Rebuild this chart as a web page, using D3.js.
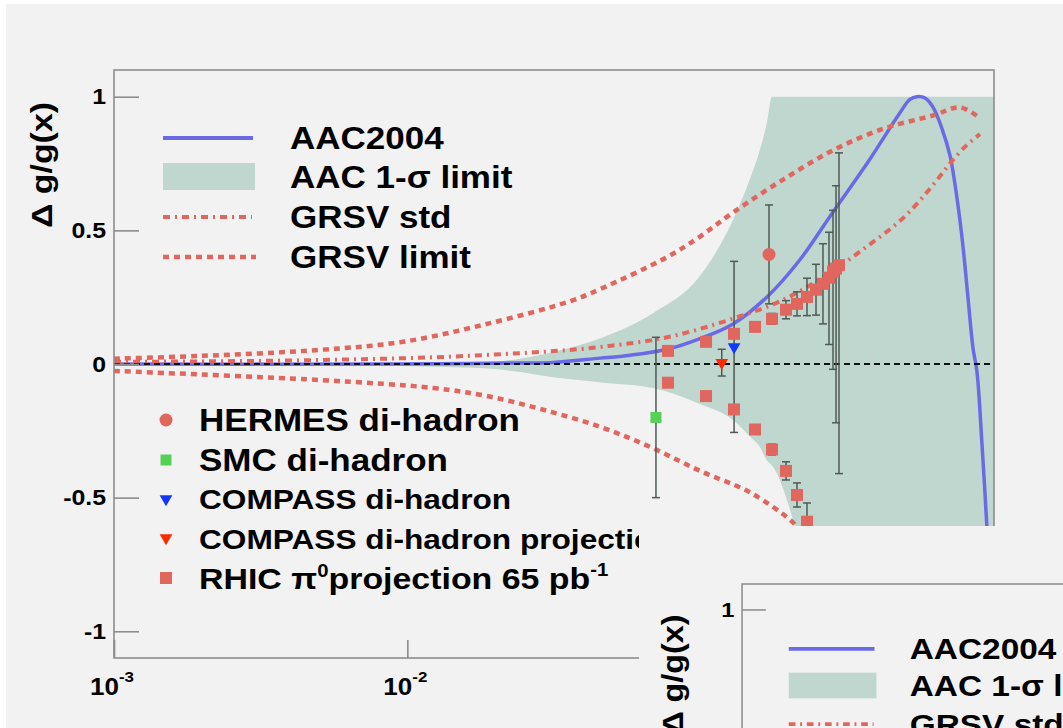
<!DOCTYPE html>
<html>
<head>
<meta charset="utf-8">
<script src="https://cdn.jsdelivr.net/npm/d3@7"></script>
<style>
  body { margin: 0; background: #fff; }
  svg text { font-family: 'Liberation Sans', Arial, Helvetica, sans-serif; font-weight: bold; fill: #000; }
</style>
</head>
<body>
<svg id="canvas" width="1063" height="728"></svg>
<script>
// ---- values ----
var aacX = [0.001, 0.0095, 0.0187, 0.0314, 0.0454, 0.0531, 0.0768, 0.0995, 0.129, 0.168, 0.218, 0.283, 0.369, 0.478, 0.517, 0.546, 0.582, 0.620, 0.665, 0.708, 0.748, 0.784, 0.815, 0.848, 0.875, 0.910, 0.947, 0.969];
var aacY = [0.0, 0.0, 0.003, 0.006, 0.022, 0.028, 0.055, 0.095, 0.15, 0.25, 0.39, 0.57, 0.75, 0.94, 0.99, 1.0, 0.995, 0.96, 0.88, 0.78, 0.62, 0.44, 0.25, 0.06, -0.03, -0.3, -0.62, -0.85];

var bandX  = [0.001, 0.00431, 0.0177, 0.0242, 0.0314, 0.0465, 0.0688, 0.0995, 0.129, 0.147, 0.159, 0.168, 0.175, 0.182, 0.197, 0.210, 0.236, 1.0];
var bandHi = [0.003, 0.004, 0.006, 0.02, 0.045, 0.10, 0.19, 0.33, 0.54, 0.69, 0.80, 0.90, 1.0, 1.0, 1.0, 1.0, 1.0, 1.0];
var bandLo = [-0.003, -0.004, -0.015, -0.03, -0.05, -0.07, -0.09, -0.15, -0.21, -0.27, -0.31, -0.36, -0.38, -0.41, -0.51, -0.61, -0.8, -0.8];

var grsvStdX = [0.001, 0.00504, 0.0187, 0.0465, 0.0768, 0.129, 0.191, 0.283, 0.369, 0.505, 0.620, 0.708, 0.809, 0.896];
var grsvStdY = [0.008, 0.015, 0.034, 0.065, 0.10, 0.17, 0.24, 0.35, 0.44, 0.56, 0.67, 0.75, 0.82, 0.86];

var grsvHiX = [0.001, 0.00195, 0.00504, 0.00966, 0.0187, 0.0359, 0.0454, 0.0768, 0.0995, 0.129, 0.191, 0.283, 0.419, 0.620, 0.766, 0.896];
var grsvHiY = [0.02, 0.03, 0.053, 0.083, 0.15, 0.235, 0.28, 0.40, 0.477, 0.567, 0.69, 0.80, 0.88, 0.93, 0.96, 0.92];
var grsvLoX = [0.001, 0.00504, 0.0123, 0.0187, 0.0288, 0.0454, 0.0672, 0.0995, 0.147, 0.205, 0.22];
var grsvLoY = [-0.026, -0.06, -0.09, -0.12, -0.17, -0.235, -0.31, -0.40, -0.48, -0.59, -0.63];

var hermesX = [0.171], hermesY = [0.41], hermesErr = [0.185];
var smcX = [0.0704], smcY = [-0.20], smcErr = [0.30];
var compassX = [0.130], compassY = [0.064], compassErr = [0.32];
var compassProjX = [0.118], compassProjY = [0.005], compassProjErr = [0.05];

var rhicX     = [0.0774, 0.1043, 0.1299, 0.1532, 0.1751, 0.1954, 0.2130, 0.2304, 0.2473, 0.2612, 0.2738, 0.2826, 0.2894, 0.2962];
var rhicUp    = [0.049, 0.083, 0.113, 0.139, 0.169, 0.203, 0.225, 0.251, 0.278, 0.300, 0.323, 0.345, 0.357, 0.370];
var rhicErrHi = [0.01, 0.01, 0.012, 0.015, 0.02, 0.034, 0.045, 0.07, 0.095, 0.15, 0.17, 0.23, 0.31, 0.42];
var rhicErrLo = [0.01, 0.01, 0.012, 0.015, 0.02, 0.034, 0.045, 0.07, 0.095, 0.15, 0.25, 0.365, 0.577, 0.78];
var rhicDown  = [-0.07, -0.12, -0.17, -0.245, -0.32, -0.40, -0.49, -0.59];

var yMajor = [-1, -0.5, 0, 0.5, 1];
var yLabels = ['-1', '-0.5', '0', '0.5', '1'];
var xMajor = [1e-3, 1e-2, 1e-1, 1];
var xExp = ['-3', '-2', '-1', ''];

var SX = 1.13;   // the fonts in the picture are drawn wider than normal
var blue = '#6a6ae6', red = '#e0665e', green = '#bfd7ce', barCol = '#4f5a54';
var pad2Left = 639, pad2Top = 526;

var svg = d3.select('#canvas');
var defs = svg.append('defs');

function label(g, px, py, parts, size, anchor) {
    var t = g.append('text')
        .attr('transform', 'translate(' + px + ',' + py + ') scale(' + SX + ',1)')
        .attr('text-anchor', anchor || 'start')
        .style('font-size', size + 'px');
    parts.forEach(function(p) {
        if (typeof p === 'string') t.append('tspan').text(p);
        else t.append('tspan').attr('dy', p.dy).style('font-size', p.size + 'px').text(p.t);
    });
    return t;
}

function drawChart(root, tag) {
    var x = d3.scaleLog().domain([1e-3, 1]).range([114, 994]),
        y = d3.scaleLinear().domain([-1.1, 1.1]).range([658, 70]);

    defs.append('clipPath').attr('id', 'frame-' + tag)
        .append('rect').attr('x', 114).attr('y', 70).attr('width', 880).attr('height', 588);

    var plot = root.append('g').attr('clip-path', 'url(#frame-' + tag + ')');

    var area = d3.area().x(function(d) { return x(d[0]); })
        .y0(function(d) { return y(d[2]); }).y1(function(d) { return y(d[1]); })
        .curve(d3.curveMonotoneX);
    plot.append('path').datum(d3.zip(bandX, bandHi, bandLo))
        .attr('d', area).attr('fill', green);

    var line = d3.line().x(function(d) { return x(d[0]); }).y(function(d) { return y(d[1]); })
        .curve(d3.curveCatmullRom);
    var smooth = d3.line().x(function(d) { return x(d[0]); }).y(function(d) { return y(d[1]); })
        .curve(d3.curveMonotoneX);

    plot.append('path').datum(d3.zip(aacX, aacY)).attr('d', line)
        .attr('fill', 'none').attr('stroke', blue).attr('stroke-width', 3.5);
    plot.append('path').datum(d3.zip(grsvStdX, grsvStdY)).attr('d', smooth)
        .attr('fill', 'none').attr('stroke', red).attr('stroke-width', 4).attr('stroke-dasharray', '7,5,2,5');
    plot.append('path').datum(d3.zip(grsvHiX, grsvHiY)).attr('d', line)
        .attr('fill', 'none').attr('stroke', red).attr('stroke-width', 4.5).attr('stroke-dasharray', '6,5');
    plot.append('path').datum(d3.zip(grsvLoX, grsvLoY)).attr('d', line)
        .attr('fill', 'none').attr('stroke', red).attr('stroke-width', 4.5).attr('stroke-dasharray', '6,5');

    plot.append('line').attr('x1', x(1e-3)).attr('x2', x(1)).attr('y1', y(0)).attr('y2', y(0))
        .attr('stroke', '#111').attr('stroke-width', 2).attr('stroke-dasharray', '6,4');

    // error bars
    var bars = [];
    rhicX.forEach(function(v, i) { bars.push([v, rhicUp[i] - rhicErrLo[i], rhicUp[i] + rhicErrHi[i]]); });
    rhicDown.forEach(function(v, i) { bars.push([rhicX[i], v - rhicErrHi[i], v + rhicErrHi[i]]); });
    bars.push([hermesX[0], hermesY[0] - hermesErr[0], hermesY[0] + hermesErr[0]]);
    bars.push([smcX[0], smcY[0] - smcErr[0], smcY[0] + smcErr[0]]);
    bars.push([compassX[0], compassY[0] - compassErr[0], compassY[0] + compassErr[0]]);
    bars.push([compassProjX[0], compassProjY[0] - compassProjErr[0], compassProjY[0] + compassProjErr[0]]);

    var eb = plot.append('g').attr('stroke', barCol).attr('stroke-width', 1.5);
    bars.forEach(function(b) {
        var cx = x(b[0]);
        eb.append('line').attr('x1', cx).attr('x2', cx).attr('y1', y(b[1])).attr('y2', y(b[2]));
        eb.append('line').attr('x1', cx - 4).attr('x2', cx + 4).attr('y1', y(b[1])).attr('y2', y(b[1]));
        eb.append('line').attr('x1', cx - 4).attr('x2', cx + 4).attr('y1', y(b[2])).attr('y2', y(b[2]));
    });

    var sq = 12;
    var rhicPts = d3.zip(rhicX, rhicUp).concat(rhicDown.map(function(v, i) { return [rhicX[i], v]; }));
    plot.selectAll('rect.rhic').data(rhicPts).enter().append('rect').attr('class', 'rhic')
        .attr('x', function(d) { return x(d[0]) - sq / 2; })
        .attr('y', function(d) { return y(d[1]) - sq / 2; })
        .attr('width', sq).attr('height', sq).attr('fill', red);

    plot.selectAll('circle.hermes').data(d3.zip(hermesX, hermesY)).enter().append('circle')
        .attr('cx', function(d) { return x(d[0]); }).attr('cy', function(d) { return y(d[1]); })
        .attr('r', 6.5).attr('fill', red);
    plot.selectAll('rect.smc').data(d3.zip(smcX, smcY)).enter().append('rect')
        .attr('x', function(d) { return x(d[0]) - 5.5; }).attr('y', function(d) { return y(d[1]) - 5.5; })
        .attr('width', 11).attr('height', 11).attr('fill', '#55d155');

    var tri = d3.symbol().type(d3.symbolTriangle).size(70);
    plot.selectAll('path.compass').data(d3.zip(compassX, compassY)).enter().append('path')
        .attr('d', tri).attr('fill', '#1436ff')
        .attr('transform', function(d) { return 'translate(' + x(d[0]) + ',' + y(d[1]) + ') rotate(180)'; });
    plot.selectAll('path.cproj').data(d3.zip(compassProjX, compassProjY)).enter().append('path')
        .attr('d', tri).attr('fill', '#ff2a00')
        .attr('transform', function(d) { return 'translate(' + x(d[0]) + ',' + y(d[1]) + ') rotate(180)'; });

    // frame
    root.append('rect').attr('x', 114).attr('y', 70).attr('width', 880).attr('height', 588)
        .attr('fill', 'none').attr('stroke', '#8c8c8c').attr('stroke-width', 1.6);

    // y axis, ticks inside
    var yMinor = d3.range(-10, 11).map(function(i) { return i / 10; });
    var yAx = root.append('g').attr('transform', 'translate(114,0)');
    yAx.call(d3.axisLeft(y).tickValues(yMinor).tickSize(-12).tickFormat(''));
    yAx.call(d3.axisLeft(y).tickValues(yMajor).tickSize(-25).tickPadding(7)
        .tickFormat(function(d, i) { return yLabels[i]; }));
    yAx.select('.domain').remove();
    yAx.selectAll('line').attr('stroke', '#8c8c8c').attr('stroke-width', 1.6);
    yAx.selectAll('text').style('font-size', '22px').attr('fill', '#000')
        .attr('transform', 'scale(' + SX + ',1)');

    // x axis (log)
    var xMinor = [];
    [1e-3, 1e-2, 1e-1].forEach(function(d) { d3.range(2, 10).forEach(function(k) { xMinor.push(d * k); }); });
    var xAx = root.append('g').attr('transform', 'translate(0,658)');
    xAx.call(d3.axisBottom(x).tickValues(xMinor).tickSize(-9).tickFormat(''));
    xAx.call(d3.axisBottom(x).tickValues(xMajor).tickSize(-18).tickFormat(''));
    xAx.select('.domain').remove();
    xAx.selectAll('line').attr('stroke', '#8c8c8c').attr('stroke-width', 1.6);
    xMajor.forEach(function(v, i) {
        if (tag === 'a' && x(v) > pad2Left) return;   // lies under the second pad
        if (xExp[i]) label(root, x(v) - 2, 695, ['10', {t: xExp[i], dy: -13, size: 15}], 23, 'middle');
        else label(root, x(v), 695, ['1'], 23, 'middle');
    });

    // axis title
    root.append('text').attr('transform', 'translate(52,165) rotate(-90) scale(' + SX + ',1)')
        .attr('text-anchor', 'middle').style('font-size', '30px').text('\u0394 g/g(x)');

    // legend: curves
    root.append('line').attr('x1', 163).attr('x2', 253).attr('y1', 138).attr('y2', 138)
        .attr('stroke', blue).attr('stroke-width', 4);
    root.append('rect').attr('x', 163).attr('y', 163).attr('width', 92).attr('height', 27).attr('fill', green);
    root.append('line').attr('x1', 163).attr('x2', 252).attr('y1', 217).attr('y2', 217)
        .attr('stroke', red).attr('stroke-width', 4).attr('stroke-dasharray', '7,5,2,5');
    root.append('line').attr('x1', 163).attr('x2', 256).attr('y1', 257).attr('y2', 257)
        .attr('stroke', red).attr('stroke-width', 4.5).attr('stroke-dasharray', '6,5');
    label(root, 290, 149, ['AAC2004'], 31);
    label(root, 290, 188, ['AAC 1-\u03c3 limit'], 31);
    label(root, 290, 228, ['GRSV std'], 31);
    label(root, 290, 268, ['GRSV limit'], 31);

    // legend: data points
    root.append('circle').attr('cx', 166).attr('cy', 420).attr('r', 6.5).attr('fill', red);
    root.append('rect').attr('x', 160.5).attr('y', 454.5).attr('width', 11).attr('height', 11).attr('fill', '#55d155');
    root.append('path').attr('d', tri).attr('fill', '#1436ff').attr('transform', 'translate(166,499) rotate(180)');
    root.append('path').attr('d', tri).attr('fill', '#ff2a00').attr('transform', 'translate(166,538) rotate(180)');
    root.append('rect').attr('x', 160).attr('y', 572).attr('width', 12).attr('height', 12).attr('fill', red);
    label(root, 199, 431, ['HERMES di-hadron'], 31);
    label(root, 199, 471, ['SMC di-hadron'], 31);
    label(root, 199, 509, ['COMPASS di-hadron'], 28);
    label(root, 199, 549, ['COMPASS di-hadron projection'], 28);
    label(root, 199, 589, ['RHIC \u03c0', {t: '0', dy: -12, size: 18}, {t: 'projection 65 pb', dy: 12, size: 30},
        {t: '-1', dy: -13, size: 18}], 30);
}

// canvas background, white strip on the top and left edges
svg.append('rect').attr('width', 1063).attr('height', 728).attr('fill', '#fff');
svg.append('rect').attr('x', 6).attr('y', 4).attr('width', 1057).attr('height', 724).attr('fill', '#f2f2f2');

drawChart(svg.append('g'), 'a');

// second, overlapping copy of the figure in the lower right corner
defs.append('clipPath').attr('id', 'pad2')
    .append('rect').attr('x', pad2Left).attr('y', pad2Top).attr('width', 1063 - pad2Left).attr('height', 728 - pad2Top);
var pad2 = svg.append('g').attr('clip-path', 'url(#pad2)');
pad2.append('rect').attr('x', pad2Left).attr('y', pad2Top).attr('width', 1063 - pad2Left).attr('height', 728 - pad2Top)
    .attr('fill', '#f2f2f2');
drawChart(pad2.append('g').attr('transform', 'translate(633.4,517.3) scale(0.953)'), 'b');
</script>
</body>
</html>
